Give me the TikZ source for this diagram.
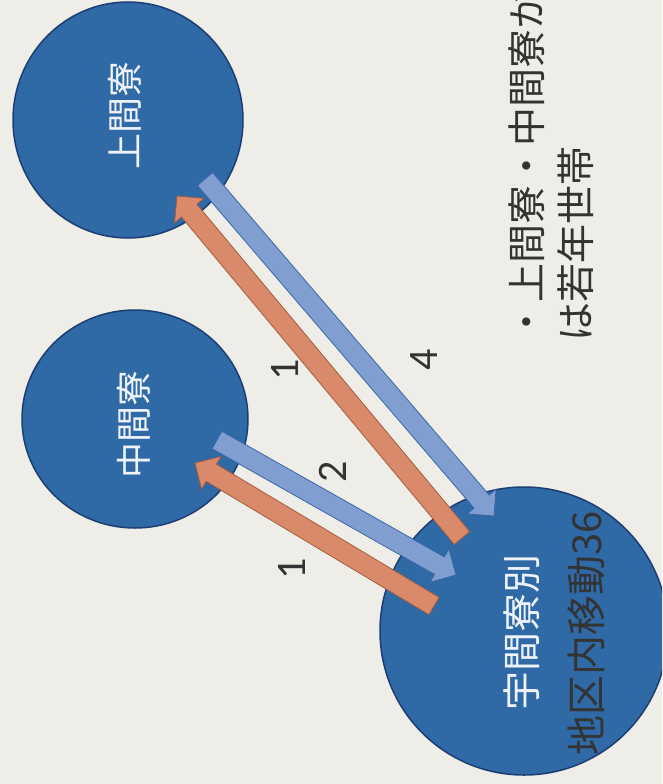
\documentclass[tikz,border=0pt]{standalone}
\usepackage{fontspec}
\setmainfont{Carlito}
\newfontfamily\jp{Noto Sans CJK JP}
\usetikzlibrary{calc,shapes.geometric}
\definecolor{paper}{HTML}{EEEDE7}
\definecolor{circfill}{HTML}{2F69A6}
\definecolor{circedge}{HTML}{1D3E72}
\definecolor{bluearr}{HTML}{809FD0}
\definecolor{bluearredge}{HTML}{3A66A8}
\definecolor{orarr}{HTML}{D98A6B}
\definecolor{orarredge}{HTML}{A65C3C}
\definecolor{inktext}{HTML}{333333}
\definecolor{circtext}{HTML}{EEF3FA}
% #1 tail coordinate, #2 tip coordinate, #3 style
\newcommand\blockarrow[3]{%
  \coordinate (#1-b) at ($(#2)!19pt!(#1)$);
  \filldraw[#3] ($(#1)!10pt!90:(#2)$) -- ($(#1-b)!10pt!-90:(#1)$)
    -- ($(#1-b)!19pt!-90:(#1)$) -- (#2) -- ($(#1-b)!19pt!90:(#1)$)
    -- ($(#1-b)!10pt!90:(#1)$) -- ($(#1)!10pt!-90:(#2)$) -- cycle;
}
\begin{document}
\begin{tikzpicture}[x=1pt,y=-1pt,
  circ/.style={ellipse, draw=circedge, line width=1.5pt, fill=circfill, inner sep=0pt},
  circlabel/.style={rotate=90, font=\jp\fontsize{36}{40}\selectfont, text=circtext, inner sep=0pt},
  num/.style={rotate=90, font=\fontsize{42}{48}\selectfont, text=inktext, inner sep=0pt},
  note/.style={rotate=90, anchor=west, font=\jp\fontsize{39}{46}\selectfont, text=inktext, inner sep=0pt},
  bluearrow/.style={fill=bluearr, draw=bluearredge, line width=0.8pt, line join=miter},
  orangearrow/.style={fill=orarr, draw=orarredge, line width=0.8pt, line join=miter}]
\useasboundingbox (0,0) rectangle (662,784);
\clip (0,0) rectangle (662,784);
\fill[paper] (0,0) rectangle (662,784);

% circles
\node[circ, minimum width=230pt, minimum height=236pt] (top) at (128,120) {};
\node[circ, minimum width=226pt, minimum height=218pt] (mid) at (135,419) {};
\node[circ, minimum size=288pt] (bot) at (524,631) {};

% circle labels
\node[circlabel] (toplab) at (125,115) {上間寮};
\node[circlabel] (midlab) at (134,424) {中間寮};
\node[circlabel, font=\jp\fontsize{39}{44}\selectfont] (botlab1) at (522,632) {宇間寮別};
\node[circlabel, font=\jp\fontsize{40}{44}\selectfont, text=inktext] (botlab2) at (586,633) {地区内移動36};

% arrow end points
\coordinate (oLs) at (462,538); \coordinate (oLe) at (177,196);
\coordinate (bLs) at (205,179); \coordinate (bLe) at (494,516);
\coordinate (b2s) at (217,440); \coordinate (b2e) at (456,575);
\coordinate (o2s) at (434,606); \coordinate (o2e) at (195,463);

\blockarrow{bLs}{bLe}{bluearrow}
\blockarrow{oLs}{oLe}{orangearrow}
\blockarrow{b2s}{b2e}{bluearrow}
\blockarrow{o2s}{o2e}{orangearrow}

% numbers
\node[num] (n1a) at (285,370) {1};
\node[num] (n4) at (424,360) {4};
\node[num] (n2) at (333,472) {2};
\node[num] (n1b) at (292,569) {1};

% note text
\node[note] (note1) at (527,342) {・上間寮・中間寮か};
\node[note] (note2) at (576,342) {は若年世帯};
\end{tikzpicture}
\end{document}
